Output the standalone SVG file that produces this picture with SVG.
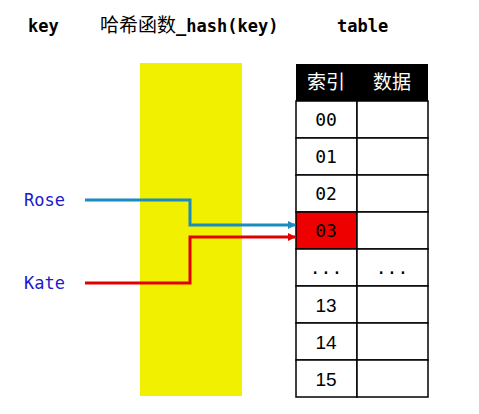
<svg xmlns="http://www.w3.org/2000/svg" width="479" height="414" viewBox="0 0 479 414">
<style>
.title{font-family:"DejaVu Sans Mono","Noto Sans CJK SC",monospace;font-size:17px;font-weight:bold;fill:#000}
.cjk{font-family:"Noto Sans CJK SC",sans-serif;font-weight:normal;font-size:19px}
.key{font-family:"DejaVu Sans Mono",monospace;font-size:17px;fill:#1a1acc}
.cell{fill:#fff;stroke:#000;stroke-width:1.5}
.num{font-family:"DejaVu Sans Mono",monospace;font-size:18px;fill:#000;text-anchor:middle}
.num2{font-family:"Liberation Sans","Noto Sans",sans-serif;font-size:19px;fill:#000;text-anchor:middle}
.hdr{font-family:"Noto Sans CJK SC",sans-serif;font-size:19px;fill:#fff;text-anchor:middle}
.line{fill:none;stroke-width:3}
</style>
<defs>
<marker id="ab" markerWidth="8" markerHeight="8" refX="7" refY="4" orient="auto" markerUnits="userSpaceOnUse"><path d="M0,0 L8,4 L0,8 z" fill="#1a8cc0"/></marker>
<marker id="ar" markerWidth="8" markerHeight="8" refX="7" refY="4" orient="auto" markerUnits="userSpaceOnUse"><path d="M0,0 L8,4 L0,8 z" fill="#e00000"/></marker>
</defs>
<rect width="479" height="414" fill="#fff"/>
<g id="titles">
<text class="title" x="28" y="32">key</text>
<text class="title" x="100" y="32"><tspan class="cjk">哈希函数</tspan>_hash(key)</text>
<text class="title" x="337" y="32">table</text>
</g>
<g id="hash"><rect x="140" y="63" width="102" height="333" fill="#f0f000"/></g>
<g id="keys">
<text id="rose" class="key" x="24" y="206">Rose</text>
<text id="kate" class="key" x="24" y="289">Kate</text>
</g>
<g id="table">
<rect x="296" y="64" width="132" height="37" fill="#000"/>
<text class="hdr" x="326" y="89">索引</text>
<text class="hdr" x="392" y="89">数据</text>
<g id="r00"><rect class="cell" x="296" y="101" width="61" height="37"/><rect class="cell" x="357" y="101" width="71" height="37"/><text class="num" x="326" y="126">00</text></g>
<g id="r01"><rect class="cell" x="296" y="138" width="61" height="37"/><rect class="cell" x="357" y="138" width="71" height="37"/><text class="num" x="326" y="163">01</text></g>
<g id="r02"><rect class="cell" x="296" y="175" width="61" height="37"/><rect class="cell" x="357" y="175" width="71" height="37"/><text class="num" x="326" y="200">02</text></g>
<g id="r03"><rect class="cell" x="296" y="212" width="61" height="37" style="fill:#ee0000"/><rect class="cell" x="357" y="212" width="71" height="37"/><text class="num" x="326" y="237">03</text></g>
<g id="rdots"><rect class="cell" x="296" y="249" width="61" height="37"/><rect class="cell" x="357" y="249" width="71" height="37"/><text class="num" x="326" y="274">...</text><text class="num" x="392" y="274">...</text></g>
<g id="r13"><rect class="cell" x="296" y="286" width="61" height="37"/><rect class="cell" x="357" y="286" width="71" height="37"/><text class="num2" x="326" y="312">13</text></g>
<g id="r14"><rect class="cell" x="296" y="323" width="61" height="37"/><rect class="cell" x="357" y="323" width="71" height="37"/><text class="num2" x="326" y="349">14</text></g>
<g id="r15"><rect class="cell" x="296" y="360" width="61" height="37"/><rect class="cell" x="357" y="360" width="71" height="37"/><text class="num2" x="326" y="386">15</text></g>
</g>
<g id="connectors">
<path class="line" d="M85,200 H190 V225 H295" stroke="#1a8cc0" marker-end="url(#ab)"/>
<path class="line" d="M85,283 H190 V237 H295" stroke="#e00000" marker-end="url(#ar)"/>
</g>
</svg>
